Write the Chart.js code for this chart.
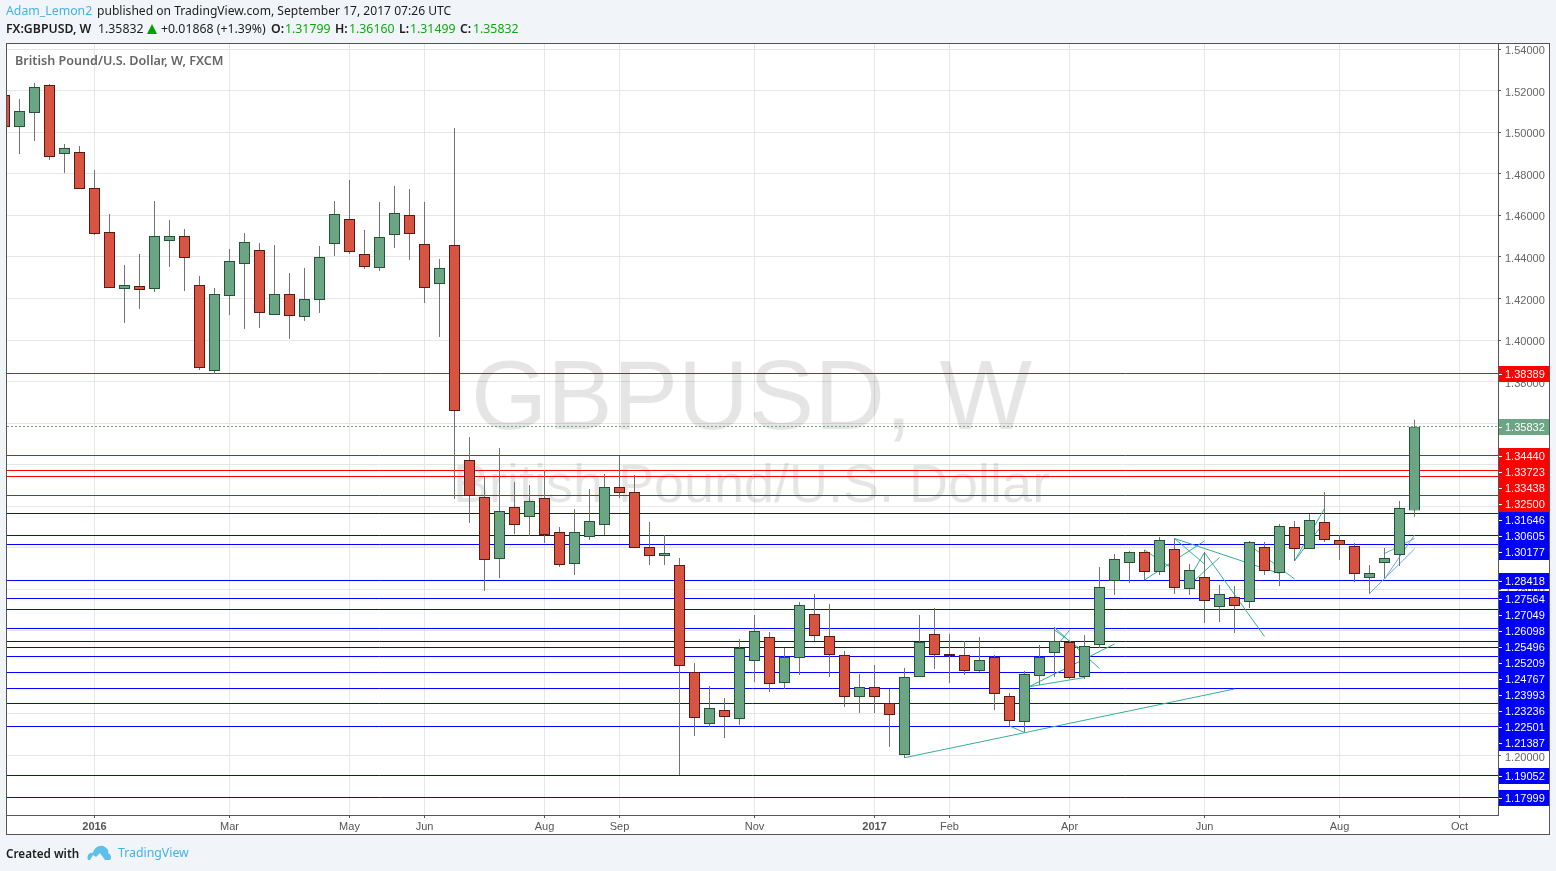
<!DOCTYPE html>
<html>
<head>
<meta charset="utf-8">
<title>GBPUSD, W</title>
<script src="https://cdn.jsdelivr.net/npm/chart.js@4/dist/chart.umd.min.js"></script>
<style>
  html, body { margin: 0; padding: 0; background: #f1f4f8; width: 1556px; height: 871px; overflow: hidden; }
  body { font-family: "Noto Sans", sans-serif; color: #1d1d1d; }
  #marco { position: absolute; left: 6px; top: 43px; width: 1542px; height: 790px; border: 1px solid #555; background: #fff; }
  #grafico { position: absolute; left: 0; top: 0; }
  .txt { position: absolute; white-space: pre; font-size: 12.3px; line-height: 16px; }
  .l1 { top: 3px; }
  .l2 { top: 21px; }
  .azul { color: #3fb3e8; }
  .verde { color: #11a811; }
  .neg { font-weight: 600; }
  #flecha { position: absolute; left: 147px; top: 24px; width: 0; height: 0; border-left: 5.5px solid transparent; border-right: 5.5px solid transparent; border-bottom: 10px solid #00a000; }
</style>
</head>
<body>
<div id="marco"></div>
<canvas id="grafico" width="1556" height="871"></canvas>

<div class="txt l1 azul" style="left:6px">Adam_Lemon2</div>
<div class="txt l1" style="left:97px;font-size:12.1px">published on TradingView.com, September 17, 2017 07:26 UTC</div>
<div class="txt l2 neg" style="left:6px">FX:GBPUSD, W</div>
<div class="txt l2" style="left:98px">1.35832</div>
<div id="flecha"></div>
<div class="txt l2" style="left:161px">+0.01868 (+1.39%)</div>
<div class="txt l2 neg" style="left:271px">O:</div>
<div class="txt l2 verde" style="left:285px">1.31799</div>
<div class="txt l2 neg" style="left:335px">H:</div>
<div class="txt l2 verde" style="left:349px">1.36160</div>
<div class="txt l2 neg" style="left:399px">L:</div>
<div class="txt l2 verde" style="left:410px">1.31499</div>
<div class="txt l2 neg" style="left:460px">C:</div>
<div class="txt l2 verde" style="left:473px">1.35832</div>
<div class="txt neg" style="left:15px;top:53px;color:#666;font-size:12.6px">British Pound/U.S. Dollar, W, FXCM</div>
<div class="txt neg" style="left:6px;top:845px;font-size:11.7px">Created with</div>
<svg style="position:absolute;left:87px;top:844px" width="25" height="17" viewBox="0 0 25 17">
  <path fill="#5cc0ea" d="M1 16 C-1 11 3 8 6 9 C7 3 14 0 18 3 C21 5 22 7 21 9 C24 10 25 14 23 16 L18 16 L13 9 L9 13 L6 11 L3 16 Z"/>
</svg>
<div class="txt azul" style="left:118px;top:845px">TradingView</div>

<script>
// Velas semanales, una por semana desde nov 2015
const aperturas = [
  1.51799, 1.50259, 1.50933, 1.52281, 1.48958, 1.49055, 1.47322, 1.45204, 1.42460, 1.42604,
  1.42460, 1.44770, 1.45011, 1.42652, 1.38511, 1.42122, 1.43662, 1.44337, 1.41207, 1.42218,
  1.41111, 1.41930, 1.44625, 1.45830, 1.44144, 1.43470, 1.45059, 1.46022, 1.44625, 1.42700,
  1.44578, 1.34226, 1.32445, 1.29460, 1.31964, 1.31482, 1.32397, 1.30760, 1.29219, 1.30519,
  1.31097, 1.32926, 1.32686, 1.30037, 1.29604, 1.29171, 1.24020, 1.21516, 1.22190, 1.21757,
  1.24549, 1.25705, 1.23490, 1.24693, 1.26812, 1.25753, 1.24838, 1.22815, 1.23298, 1.22527,
  1.20023, 1.23779, 1.25849, 1.24886, 1.24838, 1.24068, 1.24742, 1.22864, 1.21612, 1.23827,
  1.24935, 1.25464, 1.23779, 1.25319, 1.28401, 1.29268, 1.29797, 1.28834, 1.29941, 1.28015,
  1.28593, 1.27149, 1.27630, 1.27390, 1.30037, 1.28786, 1.31000, 1.29941, 1.31242, 1.30375,
  1.30086, 1.28545, 1.29268, 1.29652, 1.31799
];
const maximos = [
  1.52040, 1.51607, 1.52378, 1.52329, 1.49440, 1.49344, 1.48189, 1.46070, 1.43614, 1.44144,
  1.46696, 1.45781, 1.45348, 1.43085, 1.42508, 1.44385, 1.45156, 1.44674, 1.44578, 1.43230,
  1.43470, 1.44529, 1.46696, 1.47707, 1.45300, 1.46648, 1.47418, 1.47274, 1.46648, 1.43903,
  1.50210, 1.35334, 1.33408, 1.34804, 1.33167, 1.33022, 1.33745, 1.31000, 1.31867, 1.32830,
  1.33552, 1.34419, 1.33504, 1.31242, 1.30615, 1.29508, 1.24453, 1.23345, 1.22767, 1.25608,
  1.26764, 1.25946, 1.25175, 1.27390, 1.27775, 1.27293, 1.25031, 1.23923, 1.24356, 1.23201,
  1.24212, 1.26764, 1.27101, 1.25849, 1.25512, 1.25705, 1.24838, 1.23008, 1.24068, 1.25319,
  1.26186, 1.25512, 1.25801, 1.29075, 1.29701, 1.29845, 1.29893, 1.30519, 1.30423, 1.29219,
  1.29797, 1.28208, 1.28160, 1.30327, 1.30279, 1.31145, 1.31290, 1.31627, 1.32686, 1.30615,
  1.30231, 1.29171, 1.29989, 1.32253, 1.36160
];
const minimos = [
  1.49950, 1.48958, 1.49585, 1.48670, 1.48045, 1.47274, 1.45059, 1.42508, 1.40823, 1.41497,
  1.42315, 1.43518, 1.42363, 1.38559, 1.38367, 1.41207, 1.40533, 1.40582, 1.41207, 1.40052,
  1.40919, 1.41304, 1.44048, 1.44144, 1.43422, 1.43326, 1.44433, 1.43855, 1.41786, 1.40148,
  1.32349, 1.31194, 1.27919, 1.28545, 1.30663, 1.30567, 1.30231, 1.29075, 1.28689, 1.30375,
  1.30615, 1.32397, 1.29989, 1.29171, 1.29171, 1.19060, 1.20938, 1.21372, 1.20842, 1.21468,
  1.23538, 1.23057, 1.23201, 1.23875, 1.25512, 1.23779, 1.22334, 1.22045, 1.22045, 1.20409,
  1.19879, 1.23779, 1.24164, 1.23490, 1.23875, 1.24020, 1.22190, 1.21420, 1.21131, 1.23394,
  1.23779, 1.23682, 1.23682, 1.25175, 1.27726, 1.28305, 1.28449, 1.28689, 1.27775, 1.27726,
  1.26379, 1.26427, 1.25897, 1.27101, 1.28689, 1.28160, 1.29364, 1.29941, 1.30279, 1.29412,
  1.28352, 1.27775, 1.28545, 1.29123, 1.31499
];
const cierres = [
  1.50259, 1.51029, 1.52185, 1.48814, 1.49248, 1.47274, 1.45107, 1.42508, 1.42652, 1.42411,
  1.45011, 1.45011, 1.43952, 1.38656, 1.42218, 1.43807, 1.44722, 1.41304, 1.42218, 1.41159,
  1.41978, 1.44000, 1.46070, 1.44241, 1.43518, 1.44963, 1.46119, 1.45107, 1.42508, 1.43470,
  1.36586, 1.32493, 1.29412, 1.31771, 1.31097, 1.32253, 1.30615, 1.29171, 1.30760, 1.31290,
  1.32926, 1.32637, 1.29989, 1.29604, 1.29749, 1.24308, 1.21805, 1.22286, 1.21853, 1.25175,
  1.25994, 1.23441, 1.24742, 1.27245, 1.25753, 1.24838, 1.22815, 1.23298, 1.22815, 1.21949,
  1.23779, 1.25464, 1.24838, 1.24790, 1.24068, 1.24597, 1.22960, 1.21660, 1.23923, 1.24742,
  1.25512, 1.23730, 1.25271, 1.28112, 1.29460, 1.29797, 1.28834, 1.30375, 1.28064, 1.28930,
  1.27438, 1.27775, 1.27197, 1.30279, 1.28882, 1.31049, 1.29941, 1.31338, 1.30375, 1.30134,
  1.28737, 1.28786, 1.29508, 1.31915, 1.35832
];

// Niveles horizontales dibujados a mano
const nivelesRojos = [1.38389, 1.34440, 1.33723, 1.33438, 1.32500];
const nivelesAzules = [
  1.31646, 1.30605, 1.30177, 1.28418, 1.27564, 1.27049, 1.26098, 1.25496, 1.25209,
  1.24767, 1.23993, 1.23236, 1.22501, 1.21387, 1.19052, 1.17999
];
const ultimoPrecio = 1.35832;

// Lineas de tendencia: semana inicial, precio inicial, semana final, precio final
const tendenciasVerdes = [
  [60, 1.19893, 82, 1.23201],
  [67, 1.21420, 68, 1.21107],
  [68, 1.23273, 72, 1.23755],
  [68, 1.23201, 74, 1.25367],
  [70, 1.26162, 73, 1.24188],
  [70, 1.26042, 72, 1.24983],
  [71, 1.26018, 70, 1.25175],
  [76, 1.29893, 78, 1.28930],
  [76, 1.28449, 80, 1.30327],
  [78, 1.30447, 85, 1.28761],
  [78, 1.30447, 80, 1.29219],
  [80, 1.29773, 84, 1.25729],
  [79, 1.28545, 80, 1.29773],
  [79, 1.28208, 81, 1.29532],
  [83, 1.30134, 86, 1.28497],
  [86, 1.29364, 88, 1.31891],
  [86, 1.29364, 88, 1.31242]
];
const tendenciasAzules = [
  [91, 1.27798, 94, 1.29941],
  [92, 1.28497, 94, 1.30615],
  [92, 1.29724, 94, 1.30447]
];

// Eje de tiempo: semana donde cae cada etiqueta
const semanasEje = [6, 15, 23, 28, 36, 41, 50, 58, 63, 71, 80, 89, 97];
const etiquetasEje = ["2016", "Mar", "May", "Jun", "Aug", "Sep", "Nov", "2017", "Feb", "Apr", "Jun", "Aug", "Oct"];
const preciosEje = [1.54, 1.52, 1.50, 1.48, 1.46, 1.44, 1.42, 1.40, 1.38, 1.36, 1.34, 1.32, 1.30, 1.28, 1.26, 1.24, 1.22, 1.20, 1.18];

const semanaMin = 0.1667;
const semanaMax = 99.5667;
const precioMax = 1.54255;
const precioMin = 1.17134;

const verdeVela = "#6ba583";
const rojoVela = "#d75442";
const fuenteEje = '"Liberation Sans", Arial, sans-serif';

const semanas = cierres.map((c, i) => i);
const sube = cierres.map((c, i) => c >= aperturas[i]);

function lineaNivel(valor, color, orden, guiones) {
  return {
    type: "line",
    data: [{ x: semanaMin, y: valor }, { x: semanaMax, y: valor }],
    borderColor: color,
    borderWidth: 1,
    borderDash: guiones || [],
    pointRadius: 0,
    clip: 0,
    order: orden,
    esNivel: true
  };
}

function lineaTendencia(t, color) {
  return {
    type: "line",
    data: [{ x: t[0], y: t[1] }, { x: t[2], y: t[3] }],
    borderColor: color,
    borderWidth: 1,
    pointRadius: 0,
    clip: 0,
    order: 4
  };
}

const datasets = [
  // cuerpo de las velas
  {
    data: semanas.map((i) => ({ x: i, y: [aperturas[i], cierres[i]] })),
    backgroundColor: sube.map((s) => (s ? verdeVela : rojoVela)),
    borderColor: sube.map((s) => (s ? "#225437" : "#5b1a13")),
    borderWidth: 1,
    borderSkipped: false,
    inflateAmount: 0,
    barThickness: 11,
    grouped: false,
    clip: 0,
    order: 1
  },
  // mechas
  {
    data: semanas.map((i) => ({ x: i, y: [minimos[i], maximos[i]] })),
    backgroundColor: "#737375",
    borderWidth: 0,
    inflateAmount: 0,
    barThickness: 1,
    grouped: false,
    clip: 0,
    order: 2
  },
  ...tendenciasVerdes.map((t) => lineaTendencia(t, "#35ae9c")),
  ...tendenciasAzules.map((t) => lineaTendencia(t, "#6da6ee")),
  ...nivelesRojos.map((v) => lineaNivel(v, "#ff0000", 5)),
  ...nivelesAzules.map((v) => lineaNivel(v, "#0000ff", 5)),
  lineaNivel(ultimoPrecio, verdeVela, 5, [2, 2])
];

// Deja las lineas horizontales sobre un pixel entero para que no salgan borrosas
const ajustarNiveles = {
  id: "ajustarNiveles",
  afterDatasetUpdate(chart, args) {
    if (!args.meta._dataset.esNivel) return;
    args.meta.data.forEach((p) => { p.y = Math.floor(p.y) + 0.5; });
  }
};

// Marca de agua detras de las velas
const marcaAgua = {
  id: "marcaAgua",
  beforeDatasetsDraw(chart) {
    const ctx = chart.ctx;
    const cx = chart.scales.x.getPixelForValue(49.8);
    ctx.save();
    ctx.fillStyle = "rgba(0,0,0,0.10)";
    ctx.textAlign = "center";
    ctx.textBaseline = "middle";
    ctx.font = "98px " + fuenteEje;
    ctx.fillText("GBPUSD, W", cx, chart.scales.y.getPixelForValue(1.3703));
    ctx.font = "54px " + fuenteEje;
    ctx.fillText("British Pound/U.S. Dollar", cx, chart.scales.y.getPixelForValue(1.3292));
    ctx.restore();
  }
};

// Etiquetas de precio a la derecha, se apilan hacia abajo cuando no caben
const etiquetasPrecio = {
  id: "etiquetasPrecio",
  afterDraw(chart) {
    const ctx = chart.ctx;
    const eje = chart.scales.y;
    const niveles = [
      ...nivelesRojos.map((v) => ({ v: v, color: "#ff0000" })),
      ...nivelesAzules.map((v) => ({ v: v, color: "#0000ff" })),
      { v: ultimoPrecio, color: verdeVela }
    ].sort((a, b) => b.v - a.v);
    const alto = 16;
    let anterior = -100;
    ctx.save();
    ctx.font = "11px " + fuenteEje;
    ctx.textBaseline = "middle";
    ctx.textAlign = "left";
    niveles.forEach((n) => {
      const y = Math.max(Math.floor(eje.getPixelForValue(n.v)) + 1, anterior + alto);
      anterior = y;
      ctx.fillStyle = n.color;
      ctx.fillRect(eje.left + 1, y - alto / 2, eje.right - eje.left - 1, alto);
      ctx.fillStyle = "#fff";
      ctx.fillRect(eje.left + 1, y, 3, 1);
      ctx.fillText(n.v.toFixed(5), eje.left + 7, y + 1);
    });
    ctx.restore();
  }
};

new Chart(document.getElementById("grafico").getContext("2d"), {
  type: "bar",
  data: { datasets: datasets },
  plugins: [ajustarNiveles, marcaAgua, etiquetasPrecio],
  options: {
    responsive: false,
    animation: false,
    events: [],
    layout: { padding: { left: 7, top: 44, right: 7, bottom: 37 } },
    plugins: { legend: { display: false }, tooltip: { enabled: false } },
    scales: {
      x: {
        type: "linear",
        offset: false,
        min: semanaMin,
        max: semanaMax,
        afterBuildTicks(axis) { axis.ticks = semanasEje.map((v) => ({ value: v })); },
        afterFit(axis) { axis.height = 19; },
        border: { color: "#555" },
        grid: { offset: false, color: "#e6e6e6", tickColor: "#555", tickLength: 3 },
        ticks: {
          autoSkip: false,
          maxRotation: 0,
          padding: 2,
          color: "#555",
          font: (c) => ({
            family: fuenteEje,
            size: 11,
            weight: c.tick && /^\d/.test(c.tick.label) ? "bold" : "normal"
          }),
          callback: (v) => etiquetasEje[semanasEje.indexOf(v)]
        }
      },
      y: {
        position: "right",
        min: precioMin,
        max: precioMax,
        afterBuildTicks(axis) { axis.ticks = preciosEje.map((v) => ({ value: v })); },
        afterFit(axis) { axis.width = 51; },
        border: { color: "#555" },
        grid: { color: "#e6e6e6", tickColor: "#555", tickLength: 3 },
        ticks: {
          padding: 4,
          labelOffset: 2,
          color: "#666",
          font: { family: fuenteEje, size: 11 },
          callback: (v) => v.toFixed(5)
        }
      }
    }
  }
});
</script>
</body>
</html>
